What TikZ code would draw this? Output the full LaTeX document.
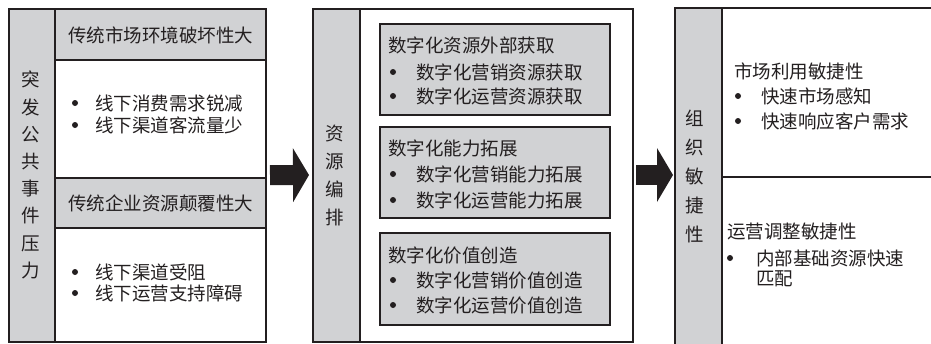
\documentclass[tikz,border=0pt]{standalone}
\usepackage{fontspec}
\setmainfont{Noto Sans CJK SC}
\usetikzlibrary{arrows.meta,calc}
\definecolor{ink}{HTML}{231F20}
\definecolor{panelgray}{HTML}{D1D2D4}
\begin{document}
\begin{tikzpicture}[x=1pt,y=-1pt,
  frame/.style={draw=ink,line width=2pt,inner sep=0pt,outer sep=0pt,anchor=north west},
  graybox/.style={frame,fill=panelgray},
  innerbox/.style={draw=ink,line width=1.5pt,fill=panelgray,inner sep=0pt,outer sep=0pt,anchor=north west},
  txt/.style={font=\fontsize{18.5}{22}\selectfont,text=ink,inner sep=0pt},
  ltxt/.style={txt,anchor=west},
  vtxt/.style={txt,align=center},
  bul/.style={circle,fill=ink,inner sep=0pt,minimum size=6pt},
  bigarrow/.style={draw=ink,line width=20pt,-{Triangle[length=16pt,width=54pt,line width=0pt]}}
]
\useasboundingbox (0,0) rectangle (931,343);
\clip (0,0) rectangle (931,343);

% ---------- panel 1 ----------
\node[frame,minimum width=257pt,minimum height=332.5pt] (p1) at (9,9) {};
\node[graybox,minimum width=46pt,minimum height=332.5pt] (p1col) at (9,9) {};
\node[graybox,minimum width=211pt,minimum height=51pt] (p1h1) at (55,9) {};
\node[graybox,minimum width=211pt,minimum height=50pt] (p1h2) at (55,178) {};
\node[vtxt,font=\fontsize{18.5}{27.2}\selectfont] (p1v) at (31,175) {突\\发\\公\\共\\事\\件\\压\\力};
\node[txt] (p1h1t) at (160.5,35) {传统市场环境破坏性大};
\node[txt] (p1h2t) at (160.5,203) {传统企业资源颠覆性大};
\node[bul] (b11) at (75,103) {};
\node[ltxt] (t11) at (95,103) {线下消费需求锐减};
\node[bul] (b12) at (75,125) {};
\node[ltxt] (t12) at (95,125) {线下渠道客流量少};
\node[bul] (b21) at (75,272) {};
\node[ltxt] (t21) at (95,272) {线下渠道受阻};
\node[bul] (b22) at (75,293) {};
\node[ltxt] (t22) at (95,293) {线下运营支持障碍};

% ---------- panel 2 ----------
\node[frame,minimum width=320pt,minimum height=333pt] (p2) at (313,8.5) {};
\node[graybox,minimum width=47pt,minimum height=333pt] (p2col) at (313,8.5) {};
\node[vtxt,font=\fontsize{18.5}{28.3}\selectfont] (p2v) at (335,175.5) {资\\源\\编\\排};
\node[innerbox,minimum width=230pt,minimum height=91pt] (m1) at (380,24) {};
\node[innerbox,minimum width=230pt,minimum height=91pt] (m2) at (380,127) {};
\node[innerbox,minimum width=230pt,minimum height=92pt] (m3) at (380,233) {};
\node[ltxt] (m1t) at (388,45) {数字化资源外部获取};
\node[bul] (m1b1) at (393,72) {};
\node[ltxt] (m1t1) at (416,72) {数字化营销资源获取};
\node[bul] (m1b2) at (393,96) {};
\node[ltxt] (m1t2) at (416,96) {数字化运营资源获取};
\node[ltxt] (m2t) at (388,148) {数字化能力拓展};
\node[bul] (m2b1) at (393,174) {};
\node[ltxt] (m2t1) at (416,174) {数字化营销能力拓展};
\node[bul] (m2b2) at (393,200) {};
\node[ltxt] (m2t2) at (416,200) {数字化运营能力拓展};
\node[ltxt] (m3t) at (388,255) {数字化价值创造};
\node[bul] (m3b1) at (393,280) {};
\node[ltxt] (m3t1) at (416,280) {数字化营销价值创造};
\node[bul] (m3b2) at (393,305) {};
\node[ltxt] (m3t2) at (416,305) {数字化运营价值创造};

% ---------- panel 3 ----------
\node[graybox,minimum width=47pt,minimum height=345pt] (p3col) at (675,7.5) {};
\node[frame,minimum width=220pt,minimum height=169.5pt] (p3top) at (722,7.5) {};
\node[frame,minimum width=220pt,minimum height=175pt] (p3bot) at (722,177) {};
\node[vtxt,font=\fontsize{18.5}{29.2}\selectfont] (p3v) at (695,176.5) {组\\织\\敏\\捷\\性};
\node[ltxt] (r1t) at (734,71) {市场利用敏捷性};
\node[bul] (r1b1) at (738,96) {};
\node[ltxt] (r1t1) at (761,96) {快速市场感知};
\node[bul] (r1b2) at (738,121) {};
\node[ltxt] (r1t2) at (761,121) {快速响应客户需求};
\node[ltxt] (r2t) at (727,232) {运营调整敏捷性};
\node[bul] (r2b1) at (730,258) {};
\node[ltxt] (r2t1) at (756,258) {内部基础资源快速};
\node[ltxt] (r2t2) at (756,279) {匹配};

% ---------- arrows ----------
\draw[bigarrow,shorten <=4pt,shorten >=4pt] (p1.east) -- (p2col.west);
\draw[bigarrow,shorten <=3pt,shorten >=2pt] (p2.east) -- (p3col.west |- p2.east);
\end{tikzpicture}
\end{document}
